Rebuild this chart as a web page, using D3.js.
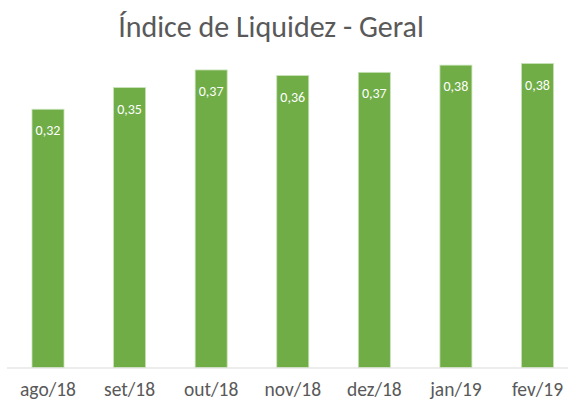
<!DOCTYPE html>
<html>
<head>
<meta charset="utf-8">
<script src="https://cdn.jsdelivr.net/npm/d3@7"></script>
<style>
    body { margin: 0; background: #fff; }
    svg { display: block; font-family: Carlito, Calibri, Lato, sans-serif; }
</style>
</head>
<body>
<div id="chart"></div>
<script>
// Chart data
const categories = ["ago/18", "set/18", "out/18", "nov/18", "dez/18", "jan/19", "fev/19"];
const values = [0.322, 0.349, 0.371, 0.364, 0.368, 0.377, 0.379];
const chartTitle = "Índice de Liquidez - Geral";

function init() {
    const width = 568, height = 402;
    const baseY = 367.5;

    const svg = d3.select("#chart")
        .append("svg")
        .attr("width", width)
        .attr("height", height);

    const x = d3.scaleBand()
        .domain(categories)
        .range([7, 578.5])
        .paddingInner(0.6077)
        .paddingOuter(0.3065);

    const y = d3.scaleLinear()
        .domain([0, 0.45])
        .range([baseY, baseY - 0.45 * 802]);

    const fmt = v => d3.format(".2f")(v).replace(".", ",");

    // title
    svg.append("text")
        .attr("x", 271)
        .attr("y", 37)
        .attr("text-anchor", "middle")
        .attr("fill", "#595959")
        .style("font-size", "30px")
        .text(chartTitle);

    // bars
    svg.selectAll(".bar")
        .data(values)
        .enter()
        .append("rect")
        .attr("class", "bar")
        .attr("x", (d, i) => x(categories[i]))
        .attr("y", d => y(d))
        .attr("width", x.bandwidth())
        .attr("height", d => y(0) - y(d))
        .attr("fill", "#70ad47")
        .attr("stroke", "#c9e2b8")
        .attr("stroke-width", 0.8);

    // baseline
    svg.append("line")
        .attr("x1", 7)
        .attr("x2", width)
        .attr("y1", y(0) + 0.5)
        .attr("y2", y(0) + 0.5)
        .attr("stroke", "#d9d9d9")
        .attr("stroke-width", 1);

    // value labels
    svg.selectAll(".label")
        .data(values)
        .enter()
        .append("text")
        .attr("class", "label")
        .attr("x", (d, i) => x(categories[i]) + x.bandwidth() / 2)
        .attr("y", d => y(d) + 26)
        .attr("text-anchor", "middle")
        .attr("fill", "#ffffff")
        .style("font-size", "14px")
        .text(d => fmt(d));

    // x axis labels
    const xAxis = svg.append("g")
        .attr("transform", `translate(0, ${baseY})`)
        .call(d3.axisBottom(x).tickSize(0).tickPadding(15));
    xAxis.select(".domain").remove();
    xAxis.selectAll("text")
        .attr("fill", "#595959")
        .style("font-family", "Carlito, Calibri, Lato, sans-serif")
        .style("font-size", "19.5px");
}

window.onload = init;
</script>
</body>
</html>
